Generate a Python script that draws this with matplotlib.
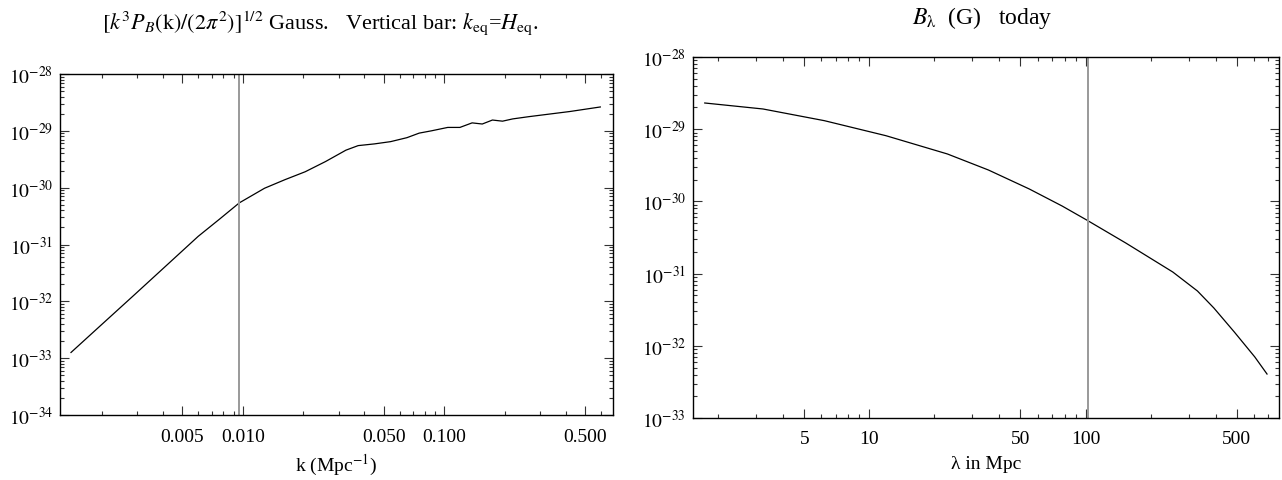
import numpy as np
import matplotlib
matplotlib.use("Agg")
import matplotlib.pyplot as plt
from matplotlib.ticker import FixedLocator, FixedFormatter, LogLocator, NullFormatter

# left panel: [k^3 P_B(k)/(2 pi^2)]^(1/2) vs k (Mpc^-1)
k_vals = [0.001406, 0.00196, 0.00287, 0.00420, 0.00601, 0.00770, 0.00962,
          0.01283, 0.01618, 0.02041, 0.02576, 0.03251, 0.03739, 0.04498,
          0.05418, 0.06530, 0.07510, 0.08630, 0.1040, 0.1195, 0.1374,
          0.1543, 0.1733, 0.1945, 0.2186, 0.2635, 0.4198, 0.5943]
bk_exp = [-32.90, -32.434, -31.90, -31.363, -30.857, -30.549, -30.267,
          -30.01, -29.86, -29.72, -29.54, -29.34, -29.26, -29.23,
          -29.19, -29.12, -29.04, -29.00, -28.94, -28.94, -28.86,
          -28.88, -28.81, -28.83, -28.79, -28.75, -28.66, -28.58]
k_eq = 0.00962
k_ticks = [0.005, 0.010, 0.050, 0.100, 0.500]
k_ticklabels = ["0.005", "0.010", "0.050", "0.100", "0.500"]

# right panel: B_lambda (G) today vs lambda in Mpc
lam_vals = [1.734, 3.224, 6.20, 11.94, 22.97, 35.55, 54.95, 77.96, 101.3,
            153.5, 253.3, 329.4, 392.2, 487.8, 606.8, 691.0]
bl_exp = [-28.637, -28.720, -28.882, -29.090, -29.343, -29.565, -29.828,
          -30.064, -30.258, -30.576, -30.978, -31.241, -31.476, -31.809,
          -32.155, -32.391]
lam_eq = 102.5
lam_ticks = [5, 10, 50, 100, 500]
lam_ticklabels = ["5", "10", "50", "100", "500"]

bk = 10.0 ** np.array(bk_exp)
bl = 10.0 ** np.array(bl_exp)

plt.rcParams['font.family'] = ['Liberation Serif', 'DejaVu Serif']
plt.rcParams['mathtext.fontset'] = 'stix'

W, H = 1282, 481
fig = plt.figure(figsize=(W / 100, H / 100), dpi=100)

def px_axes(x0, y0, x1, y1):
    return fig.add_axes([x0 / W, 1 - y1 / H, (x1 - x0) / W, (y1 - y0) / H])

def style_axis(ax, xt, xtl, ylo, yhi):
    ax.set_xscale('log')
    ax.set_yscale('log')
    ax.xaxis.set_major_locator(FixedLocator(xt))
    ax.xaxis.set_major_formatter(FixedFormatter(xtl))
    ax.xaxis.set_minor_locator(LogLocator(base=10, subs=np.arange(1, 10), numticks=30))
    ax.xaxis.set_minor_formatter(NullFormatter())
    yt = [10.0 ** e for e in range(ylo, yhi + 1)]
    ax.yaxis.set_major_locator(FixedLocator(yt))
    ax.yaxis.set_major_formatter(FixedFormatter([r'$10^{%d}$' % e for e in range(ylo, yhi + 1)]))
    ax.yaxis.set_minor_locator(LogLocator(base=10, subs=np.arange(2, 10), numticks=30))
    ax.yaxis.set_minor_formatter(NullFormatter())
    ax.set_ylim(10.0 ** ylo, 10.0 ** yhi)
    ax.tick_params(which='both', direction='in', top=True, right=True,
                   labelsize=14, width=0.8, color='#333333')
    ax.tick_params(which='major', length=6.5)
    ax.tick_params(axis='x', which='major', pad=9)
    ax.tick_params(axis='y', which='major', pad=5)
    ax.tick_params(which='minor', length=3)
    for s in ax.spines.values():
        s.set_linewidth(1.0)

# left
ax1 = px_axes(60, 75, 613, 416)
ax1.plot(k_vals, bk, color='black', lw=0.9)
ax1.axvline(k_eq, color='#999999', lw=1.4)
ax1.set_xlim(0.00124, 0.687)
style_axis(ax1, k_ticks, k_ticklabels, -34, -28)

# right
ax2 = px_axes(693, 58, 1279, 419)
ax2.plot(lam_vals, bl, color='black', lw=0.9)
ax2.axvline(lam_eq, color='#999999', lw=1.4)
ax2.set_xlim(1.53, 785)
style_axis(ax2, lam_ticks, lam_ticklabels, -33, -28)

# axis labels and titles
fig.text(336 / W, 1 - 465 / H, r'k (Mpc$^{-1}$)', ha='center', va='center', fontsize=14)
fig.text(986 / W, 1 - 465 / H, 'λ in Mpc', ha='center', va='center', fontsize=14)
fig.text(320 / W, 1 - 23 / H,
         r'$[k^3 P_B(\mathrm{k})/(2\pi^2)]^{1/2}$ Gauss.   Vertical bar: $k_{\mathrm{eq}}$=$H_{\mathrm{eq}}$.',
         ha='center', va='center', fontsize=16)
fig.text(982 / W, 1 - 18 / H, r'$B_{\mathrm{λ}}$  (G)   today',
         ha='center', va='center', fontsize=17)

fig.savefig('out.png', dpi=100)
